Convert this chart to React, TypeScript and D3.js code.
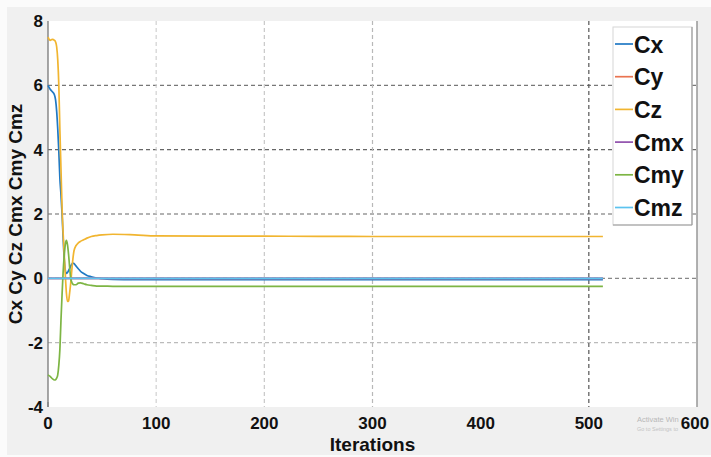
import React from "react";
import * as d3 from "d3";

// Force / moment coefficients over solver iterations
const iterations = [0, 2, 4, 6, 7, 8, 9, 10, 11, 12, 13, 14, 15, 16, 17, 18, 19, 20, 21, 22, 23, 24, 26, 28, 30, 33, 36, 40, 45, 50, 60, 80, 100, 150, 200, 300, 400, 513];

const cx = [6.0, 5.88, 5.8, 5.7, 5.55, 5.2, 4.65, 3.95, 3.1, 2.6, 2.0, 1.25, 0.6, 0.25, 0.15, 0.18, 0.24, 0.3, 0.38, 0.44, 0.47, 0.46, 0.38, 0.3, 0.22, 0.15, 0.09, 0.05, 0.01, -0.01, -0.03, -0.04, -0.04, -0.04, -0.04, -0.04, -0.04, -0.04];
const cz = [7.5, 7.4, 7.43, 7.4, 7.35, 7.2, 6.8, 6.0, 4.6, 3.4, 2.2, 1.4, 0.75, 0.1, -0.45, -0.72, -0.7, -0.45, -0.15, 0.25, 0.6, 0.85, 1.02, 1.1, 1.15, 1.2, 1.25, 1.3, 1.33, 1.35, 1.37, 1.35, 1.32, 1.31, 1.31, 1.3, 1.3, 1.3];
const cmy = [-3.0, -3.05, -3.12, -3.16, -3.15, -3.1, -3.0, -2.7, -2.2, -1.3, -0.5, 0.2, 0.7, 1.05, 1.18, 1.05, 0.75, 0.35, 0.0, -0.12, -0.18, -0.2, -0.2, -0.15, -0.14, -0.17, -0.2, -0.22, -0.24, -0.24, -0.25, -0.25, -0.25, -0.25, -0.25, -0.25, -0.25, -0.25];

// Coefficients that stay at zero for the whole run
const flatIterations = [0, 100, 200, 300, 400, 513];
const cy = [0, 0, 0, 0, 0, 0];
const cmx = [0, 0, 0, 0, 0, 0];
const cmz = [0, 0, 0, 0, 0, 0];

const seriesNames = ["Cx", "Cy", "Cz", "Cmx", "Cmy", "Cmz"];

const xTicks = [0, 100, 200, 300, 400, 500, 600];
const yTicks = [-4, -2, 0, 2, 4, 6, 8];

const xGridValues = [100, 200, 300, 500];
const yGridValues = [6, 4, 2, 0, -2];

const W = 711;
const H = 457;
const PL = 48;
const PR = 697;
const PT = 21;
const PB = 407;

const colors: Record<string, string> = {
  Cx: "#2079c4",
  Cy: "#ea7450",
  Cz: "#f1b530",
  Cmx: "#9050ac",
  Cmy: "#7db544",
  Cmz: "#5cc3ef",
};

const xGridStroke: Record<number, string> = { 100: "#d0d0d0", 200: "#c8c8c8", 300: "#b8b8b8", 500: "#555" };
const yGridStroke: Record<number, string> = { 6: "#777", 4: "#666", 2: "#666", 0: "#888", [-2]: "#bbb" };

const FONT = "'Liberation Sans', Arial, Helvetica, sans-serif";

export default function App() {
  const x = d3.scaleLinear().domain([0, 600]).range([PL, PR]);
  const y = d3.scaleLinear().domain([-4, 8]).range([PB, PT]);

  const line = d3
    .line<[number, number]>()
    .x((d) => x(d[0]))
    .y((d) => y(d[1]))
    .curve(d3.curveMonotoneX);

  const zip = (xs: number[], ys: number[]) => xs.map((v, i) => [v, ys[i]] as [number, number]);

  const series = [
    { name: "Cx", pts: zip(iterations, cx) },
    { name: "Cy", pts: zip(flatIterations, cy) },
    { name: "Cz", pts: zip(iterations, cz) },
    { name: "Cmx", pts: zip(flatIterations, cmx) },
    { name: "Cmy", pts: zip(iterations, cmy) },
    { name: "Cmz", pts: zip(flatIterations, cmz) },
  ];

  const legendX = 613;
  const legendY = 27;
  const legendW = 79;
  const legendH = 198;
  const rowH = 32.7;

  return (
    <svg
      width={W}
      height={H}
      style={{ position: "absolute", left: 0, top: 0, display: "block" }}
      fontFamily={FONT}
    >
      <rect x={0} y={0} width={W} height={H} fill="#fbfbfb" />
      <rect x={7} y={7} width={W - 7} height={448} fill="#f0f0f0" />
      <rect x={PL} y={PT} width={PR - PL} height={PB - PT} fill="#ffffff" />

      {/* grid */}
      {yGridValues.map((v) => (
        <line
          key={"yg" + v}
          x1={PL}
          x2={PR}
          y1={y(v)}
          y2={y(v)}
          stroke={yGridStroke[v]}
          strokeWidth={1.2}
          strokeDasharray="4,3"
        />
      ))}
      {xGridValues.map((v) => (
        <line
          key={"xg" + v}
          x1={x(v)}
          x2={x(v)}
          y1={PT}
          y2={PB}
          stroke={xGridStroke[v]}
          strokeWidth={1.2}
          strokeDasharray="4,3"
        />
      ))}

      {/* axes frame */}
      <line x1={PL} x2={PL} y1={PT} y2={PB} stroke="#777" strokeWidth={1.3} />
      <line x1={PR} x2={PR} y1={PT} y2={PB} stroke="#888" strokeWidth={1.3} />
      <line x1={PL} x2={PL} y1={PB} y2={PB - 5} stroke="#777" strokeWidth={1} />

      {/* data */}
      {series.map((s) => (
        <path
          key={s.name}
          d={line(s.pts) || ""}
          fill="none"
          stroke={colors[s.name]}
          strokeWidth={1.7}
          strokeLinejoin="round"
        />
      ))}

      {/* tick labels */}
      {yTicks.map((v) => (
        <text
          key={"yt" + v}
          x={43}
          y={y(v) + 6}
          textAnchor="end"
          fontSize={17}
          fontWeight="bold"
          fill="#111"
        >
          {v}
        </text>
      ))}

      {/* watermark text at the lower right */}
      <text x={637} y={422} fontSize={7.5} fill="#b8b8b8">
        Activate Win
      </text>
      <text x={637} y={431} fontSize={5.5} fill="#c4c4c4">
        Go to Settings to
      </text>

      {xTicks.map((v) => (
        <text
          key={"xt" + v}
          x={Math.min(x(v), 695)}
          y={429}
          textAnchor="middle"
          fontSize={17}
          fontWeight="bold"
          fill="#111"
        >
          {v}
        </text>
      ))}

      {/* axis titles */}
      <text
        x={(PL + PR) / 2}
        y={451}
        textAnchor="middle"
        fontSize={19}
        fontWeight="bold"
        fill="#111"
      >
        Iterations
      </text>
      <text
        transform={`translate(22, ${(PT + PB) / 2}) rotate(-90)`}
        textAnchor="middle"
        fontSize={19}
        fontWeight="bold"
        fill="#111"
      >
        Cx Cy Cz Cmx Cmy Cmz
      </text>

      {/* legend */}
      <rect x={legendX} y={legendY} width={legendW} height={legendH} fill="#ffffff" stroke="#d6d6d6" strokeWidth={1} />
      <line x1={legendX + legendW} x2={legendX + legendW} y1={legendY} y2={legendY + legendH} stroke="#9a9a9a" strokeWidth={1.2} />
      <line x1={legendX} x2={legendX + legendW} y1={legendY + legendH} y2={legendY + legendH} stroke="#9a9a9a" strokeWidth={1.2} />
      {seriesNames.map((name, i) => {
        const cy0 = legendY + 17 + i * rowH;
        return (
          <g key={"lg" + name}>
            <line x1={legendX + 2} x2={legendX + 20} y1={cy0} y2={cy0} stroke={colors[name]} strokeWidth={1.7} />
            <text x={legendX + 21} y={cy0 + 8.5} fontSize={23} fontWeight="bold" fill="#111">
              {name}
            </text>
          </g>
        );
      })}
    </svg>
  );
}
